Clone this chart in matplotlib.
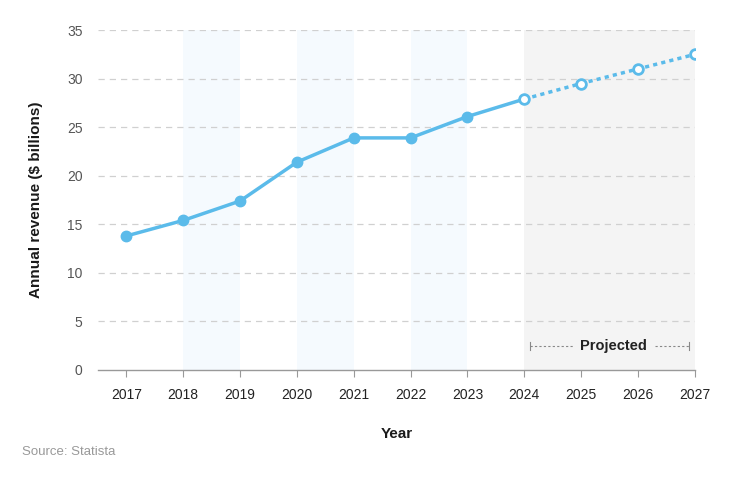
import matplotlib
matplotlib.use("Agg")
import matplotlib.pyplot as plt

plt.rcParams['font.family'] = ['Liberation Sans', 'DejaVu Sans']

years_actual = [2017, 2018, 2019, 2020, 2021, 2022, 2023, 2024]
revenue_actual = [13.8, 15.4, 17.4, 21.4, 23.9, 23.9, 26.1, 27.9]
years_proj = [2024, 2025, 2026, 2027]
revenue_proj = [27.9, 29.5, 31.0, 32.5]
yticks = [0, 5, 10, 15, 20, 25, 30, 35]
blue_bands = [(2018, 2019), (2020, 2021), (2022, 2023)]
proj_band = (2024, 2027)

blue = '#5bbbea'
fig = plt.figure(figsize=(7.36, 4.78), dpi=100)
ax = fig.add_axes([0.133, 0.226, 0.811, 0.711])

for a, b in blue_bands:
    ax.axvspan(a, b, color='#f5fafe', zorder=0, lw=0)
ax.axvspan(proj_band[0], proj_band[1], color='#f4f4f4', zorder=0, lw=0)

for yv in yticks[1:]:
    ax.axhline(yv, color='#d0d0d0', lw=0.9, ls=(0, (5, 4)), zorder=1)

ax.plot(years_actual, revenue_actual, color=blue, lw=2.5, zorder=3)
ax.plot(years_actual[:-1], revenue_actual[:-1], 'o', color=blue, ms=7.5, zorder=4)
ax.plot(years_proj, revenue_proj, color=blue, lw=2.5, ls=(0, (1.2, 1.2)), zorder=3)
ax.plot(years_proj, revenue_proj, 'o', mfc='white', mec=blue, mew=2, ms=7, zorder=5)

ax.set_xlim(2016.5, 2027)
ax.set_ylim(0, 35)
ax.set_xticks(years_actual + years_proj[1:])
ax.set_yticks(yticks)
ax.tick_params(axis='x', length=5, color='#999999', labelsize=10, pad=8, labelcolor='#222222')
ax.tick_params(axis='y', length=0, labelsize=10, pad=11, labelcolor='#555555')
for s in ['top', 'right', 'left']:
    ax.spines[s].set_visible(False)
ax.spines['bottom'].set_color('#999999')
ax.spines['bottom'].set_linewidth(1)

ax.set_xlabel('Year', fontsize=11, fontweight='bold', labelpad=18, color='#1a1a1a')
ax.set_ylabel('Annual revenue ($ billions)', fontsize=11, fontweight='bold', labelpad=17, color='#1a1a1a')

# Projected annotation
ax.plot([2024.1, 2024.85], [2.5, 2.5], color='#888888', lw=0.8, ls=(0, (2, 2)))
ax.plot([2026.3, 2026.9], [2.5, 2.5], color='#888888', lw=0.8, ls=(0, (2, 2)))
ax.plot([2024.1, 2024.1], [2.1, 2.9], color='#888888', lw=0.8)
ax.plot([2026.9, 2026.9], [2.1, 2.9], color='#888888', lw=0.8)
ax.text(2025.57, 2.5, 'Projected', ha='center', va='center', fontsize=10.5, fontweight='bold', color='#222222')

fig.text(0.03, 0.054, 'Source: Statista', fontsize=9.5, color='#999999', ha='left', va='center')

fig.savefig('out.png', dpi=100)
